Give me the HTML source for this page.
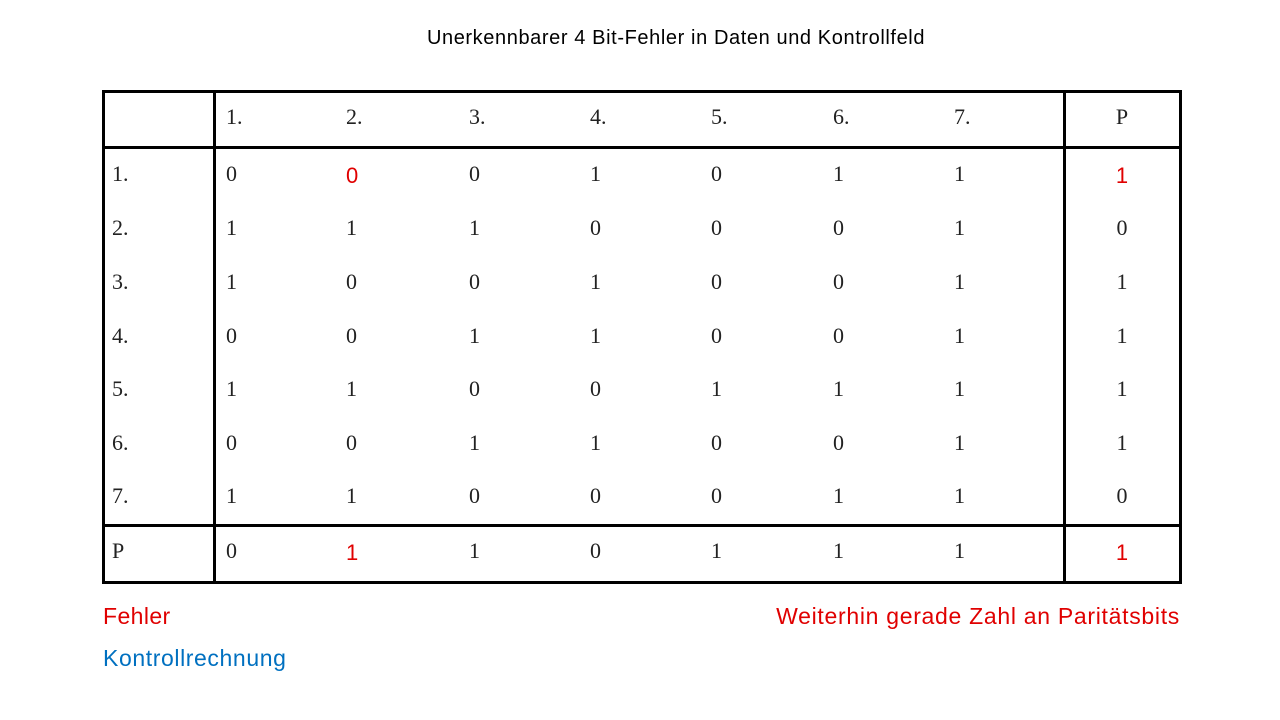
<!DOCTYPE html>
<html><head><meta charset="utf-8"><style>
body{margin:0;width:1280px;height:720px;background:#fff;position:relative;overflow:hidden;font-family:"Liberation Sans",sans-serif}
.a{position:absolute;white-space:nowrap}
.s{font-family:"Liberation Serif",serif;font-size:22px;color:#222;transform:translateY(-50%)}
.r{font-family:"Liberation Sans",sans-serif;color:#e00000;font-size:22px;margin-top:2px}
.line{position:absolute;background:#000}
</style></head><body>
<div class="a" style="left:0;width:1352px;text-align:center;top:27px;font-size:20px;letter-spacing:0.6px;color:#000">Unerkennbarer 4 Bit-Fehler in Daten und Kontrollfeld</div>
<div style="position:absolute;left:102px;top:90px;width:1074px;height:488px;border:3px solid #000"></div>
<div class="line" style="left:213px;top:90px;width:3px;height:494px"></div>
<div class="line" style="left:1063px;top:90px;width:3px;height:494px"></div>
<div class="line" style="left:102px;top:146px;width:1080px;height:3px"></div>
<div class="line" style="left:102px;top:524px;width:1080px;height:3px"></div>
<div id="cells"></div>
<div class="a" style="left:103px;top:603px;font-size:23px;letter-spacing:0.4px;color:#e00000">Fehler</div>
<div class="a" style="left:103px;top:645px;font-size:23px;letter-spacing:0.6px;color:#0070c0">Kontrollrechnung</div>
<div class="a" style="right:100px;top:603px;font-size:23px;letter-spacing:0.7px;color:#e00000">Weiterhin gerade Zahl an Paritätsbits</div>
<script>
const rows=[[0,0,0,1,0,1,1,1],[1,1,1,0,0,0,1,0],[1,0,0,1,0,0,1,1],[0,0,1,1,0,0,1,1],[1,1,0,0,1,1,1,1],[0,0,1,1,0,0,1,1],[1,1,0,0,0,1,1,0],[0,1,1,0,1,1,1,1]];
const red=[[0,1],[0,7],[7,1],[7,7]];
const colX=[226,346,469,590,711,833,954];
const rowY=[174,228,282,336,389,443,496,551];
const c=document.getElementById('cells');
function add(txt,x,y,isRed,center,name){
 const d=document.createElement('div');
 d.className='a s'+(isRed?' r':'');
 d.textContent=txt;d.style.top=y+'px';
 if(center){d.style.left=(x-30)+'px';d.style.width='60px';d.style.textAlign='center';}else d.style.left=x+'px';
 
 
 c.appendChild(d);
}
for(let i=0;i<7;i++)add((i+1)+'.',colX[i],117,false,false,'col-header');
add('P',1122,117,false,true,'col-header');
rows.forEach((r,i)=>{
 add(i<7?(i+1)+'.':'P',112,rowY[i],false,false,'row-header');
 r.forEach((v,j)=>{
  const isR=red.some(p=>p[0]==i&&p[1]==j);
  if(j<7)add(v,colX[j],rowY[i],isR,false,'cell');else add(v,1122,rowY[i],isR,true,'parity-cell');
 });
});
</script>
</body></html>
